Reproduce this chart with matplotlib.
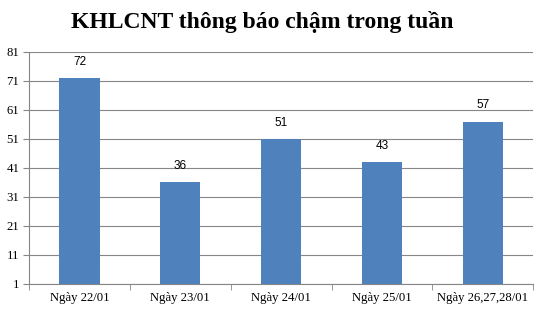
import matplotlib
matplotlib.use('Agg')
import matplotlib.pyplot as plt
import numpy as np

categories = ['Ngày 22/01', 'Ngày 23/01', 'Ngày 24/01', 'Ngày 25/01', 'Ngày 26,27,28/01']
values = [72, 36, 51, 43, 57]
yticks = [1, 11, 21, 31, 41, 51, 61, 71, 81]

fig = plt.figure(figsize=(5.38, 3.11), dpi=100)
ax = fig.add_axes([0.054, 0.087, 0.937, 0.746])

x = np.arange(len(categories))
ax.bar(x, np.array(values) - 1, bottom=1, width=0.4, color='#4F81BD', zorder=3)
for xi, v in zip(x, values):
    ax.text(xi, v + 3.5, str(v), ha='center', va='bottom', fontsize=8.5,
            family='Liberation Sans')

ax.set_xlim(-0.5, len(categories) - 0.5)
ax.set_ylim(1, 81)
ax.set_yticks(yticks)
ax.set_yticklabels([str(t) for t in yticks], family='Liberation Serif', fontsize=9.2)
ax.set_xticks(x)
ax.set_xticklabels(categories, family='Liberation Serif', fontsize=9.2)
ax.set_xticks(np.arange(-0.5, len(categories)), minor=True)
ax.tick_params(axis='x', which='major', length=0, pad=6)
ax.tick_params(axis='x', which='minor', length=4, color='#868686')
ax.tick_params(axis='y', length=4, color='#868686', pad=3)
ax.grid(axis='y', color='#868686', linewidth=0.8, zorder=0)
for s in ['top', 'right']:
    ax.spines[s].set_visible(False)
for s in ['left', 'bottom']:
    ax.spines[s].set_color('#868686')

fig.text(0.487, 0.93, 'KHLCNT thông báo chậm trong tuần', ha='center', va='center',
         family='Liberation Serif', fontweight='bold', fontsize=17)

fig.savefig('out.png', dpi=100)
